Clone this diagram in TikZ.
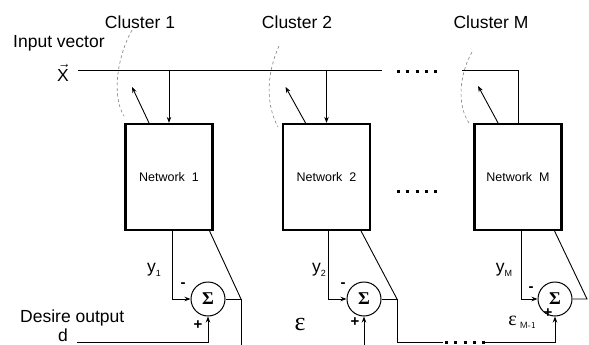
\documentclass[tikz,border=0pt]{standalone}
\usepackage{fontspec}
\setmainfont{Liberation Sans}
\newfontfamily\serifx{Liberation Serif}
\usetikzlibrary{arrows.meta,calc}
\begin{document}
\begin{tikzpicture}[x=1pt,y=-1pt,
  lbl/.style={font=\fontsize{17.5}{20}\selectfont, inner sep=0pt},
  small/.style={font=\fontsize{15}{15}\selectfont\bfseries, inner sep=0pt},
  netbox/.style={draw, line width=2.2pt, minimum width=87pt, minimum height=106pt, font=\fontsize{12.5}{14}\selectfont, inner sep=0pt},
  sumnode/.style={draw, circle, line width=1pt, minimum size=34pt, inner sep=0pt, font=\fontsize{18}{18}\selectfont\serifx\bfseries},
  wire/.style={line width=0.9pt},
  arr/.style={wire, -{Stealth[length=6pt,width=4.5pt]}},
  clus/.style={gray, line width=0.6pt, dash pattern=on 3pt off 2.5pt},
  dotrow/.style={line width=3pt, dash pattern=on 3pt off 6.25pt}
]
\useasboundingbox (0,0) rectangle (589,345);

% labels
\node[lbl] (c1) at (140,22) {Cluster 1};
\node[lbl] (c2) at (297,22) {Cluster 2};
\node[lbl] (cM) at (491,22) {Cluster M};
\node[lbl, anchor=west] (iv) at (13,43) {Input vector};
\node[lbl] (xv) at (63,73) {$\vec{\hbox{\fontsize{17.5}{20}\selectfont X}}$};

% networks
\node[netbox] (net1) at (169,177) {Network\ \ 1};
\node[netbox] (net2) at (326.5,177) {Network\ \ 2};
\node[netbox] (netM) at (518,177) {Network\ \ M};

% input bus
\coordinate (in0) at (78,70);
\coordinate (in1) at (382,70);
\coordinate (inM) at (462,70);
\draw[wire] (in0) -- (in1);
\draw[dotrow] (397,72) -- (437,72);
\draw[arr] (net1.north |- in0) -- (net1.north);
\draw[arr] (net2.north |- in0) -- (net2.north);
\draw[wire] (inM) -| (netM.north);

% adjustment arrows
\draw[arr] ($(net1.north)+(-20,0)$) -- ++(-17,-36);
\draw[arr] ($(net2.north)+(-21,0)$) -- ++(-20,-36);
\draw[arr] ($(netM.north)+(-20,0)$) -- ++(-20,-37);

% cluster boundaries
\draw[clus] (132,30) .. controls (118,55) and (111,95) .. (124,116);
\draw[clus] (279,46) .. controls (266,75) and (266,105) .. (278,127);
\draw[clus] (472,52) .. controls (459,75) and (457,105) .. (469,123);

% dots between networks
\draw[dotrow] (397,191) -- (437,191);

% summing nodes
\node[sumnode] (s1) at (208,299) {Σ};
\node[sumnode] (s2) at (364,299) {Σ};
\node[sumnode] (sM) at (555,299) {Σ};

\coordinate (k1) at (241,299);
\coordinate (k2) at (397,299);
\coordinate (kM) at (587,299);

% network 1 outputs
\draw[arr] ($(net1.south)+(3,0)$) |- (s1.west);
\draw[wire] ($(net1.south east)+(-4,0)$) -- (k1);
\draw[wire] (s1.east) -- (k1) -- (241,345);
\coordinate (d0) at (77,342);
\draw[arr] (d0) -| (s1.south);

% network 2 outputs
\draw[arr] ($(net2.south)+(1.5,0)$) |- (s2.west);
\draw[wire] ($(net2.south east)+(-10,0)$) -- (k2);
\draw[wire] (s2.east) -- (k2);
\coordinate (e1) at (443,342);
\coordinate (e2) at (483,342);
\draw[wire] (k2) |- (e1);
\draw[dotrow] (445,342) -- (485,342);
\draw[arr] (e2) -| (sM.south);
\draw[arr] (s2.south |- 0,345) -- (s2.south);

% network M outputs
\draw[arr] ($(netM.south)+(3,0)$) |- (sM.west);
\draw[wire] ($(netM.south east)+(-8,0)$) -- (kM) -- (sM.east);

% signal labels
\node[lbl] (y1) at (154,270) {y\raisebox{-4pt}{\fontsize{9}{9}\selectfont 1}};
\node[lbl] (y2) at (319,270) {y\raisebox{-4pt}{\fontsize{9}{9}\selectfont 2}};
\node[lbl] (yM) at (504,270) {y\raisebox{-4pt}{\fontsize{9}{9}\selectfont M}};
\node[small] (m1) at (183,285) {-};
\node[small] (m2) at (343,285) {-};
\node[small] (mM) at (531,289) {-};
\node[small] (p1) at (198,325) {+};
\node[small] (p2) at (355,322) {+};
\node[small] (pM) at (548,313) {+};
\node[lbl, anchor=west] (des) at (20,318) {Desire output};
\node[lbl] (dd) at (63,335) {d};
\node[inner sep=0pt] (eps) at (300,324) {\fontsize{26}{26}\selectfont\serifx ε};
\node[inner sep=0pt] (epsM) at (522,322) {\fontsize{20}{20}\selectfont\serifx ε\raisebox{-3pt}{\fontsize{9}{9}\selectfont\sffamily\ M-1}};
\end{tikzpicture}
\end{document}
